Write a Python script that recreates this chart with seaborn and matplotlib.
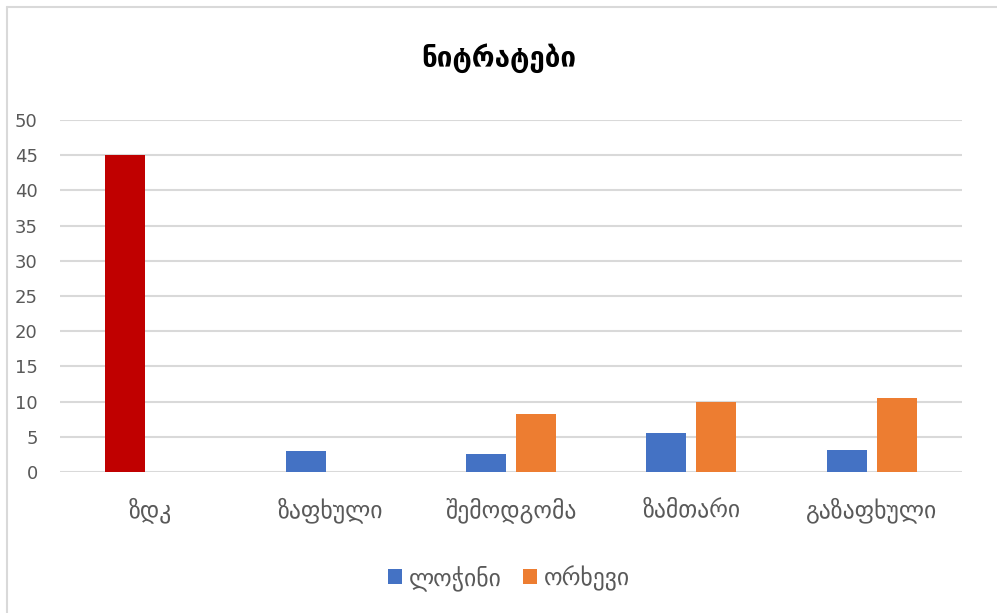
import matplotlib
matplotlib.use("Agg")
import matplotlib.pyplot as plt
from matplotlib.lines import Line2D
from matplotlib.patches import Patch
import seaborn as sns
import pandas as pd

# Nitrate readings by season for two sites, plus the permitted limit (ზდკ)
categories = ["ზდკ", "ზაფხული", "შემოდგომა", "ზამთარი", "გაზაფხული"]
series_names = ["ლოჭინი", "ორხევი"]
lochini = [45.0, 3.0, 2.5, 5.5, 3.1]
orkhevi = [0.0, 0.0, 8.3, 10.0, 10.5]
y_ticks = [0, 5, 10, 15, 20, 25, 30, 35, 40, 45, 50]

blue = "#4472C4"
orange = "#ED7D31"
limit_red = "#C00000"
text_gray = "#595959"
grid_gray = "#D9D9D9"

df = pd.DataFrame({
    "category": categories * 2,
    "site": [series_names[0]] * len(categories) + [series_names[1]] * len(categories),
    "value": lochini + orkhevi,
})

sns.set_style("white")
plt.rcParams["font.family"] = ["DejaVu Sans"]

fig = plt.figure(figsize=(9.97, 6.13), dpi=100)
ax = fig.add_axes([60 / 997, 141 / 613, 902 / 997, 352 / 613])

sns.barplot(
    data=df, x="category", y="value", hue="site",
    order=categories, hue_order=series_names,
    palette=[blue, orange], width=0.555, gap=0.2,
    saturation=1, errorbar=None, legend=False, ax=ax,
    linewidth=0, edgecolor="none",
)

# the limit bar is shown in red
ax.containers[0][0].set_facecolor(limit_red)

ax.set_ylim(0, 50)
ax.set_xlim(-0.5, len(categories) - 0.5)
ax.set_yticks(y_ticks)
ax.set_yticklabels([str(t) for t in y_ticks])
ax.yaxis.grid(True, color=grid_gray, linewidth=1.5)
ax.set_axisbelow(True)
for s in ax.spines.values():
    s.set_visible(False)
ax.tick_params(axis="y", length=0, pad=16, labelsize=13, labelcolor=text_gray)
ax.tick_params(axis="x", length=0, pad=18, labelsize=17, labelcolor=text_gray)
ax.set_xlabel("")
ax.set_ylabel("")

fig.text(0.5, 1 - 58 / 613, "ნიტრატები", ha="center", va="center",
         fontsize=20, fontweight="bold", color="black")

handles = [Patch(facecolor=blue, edgecolor="none"),
           Patch(facecolor=orange, edgecolor="none")]
leg = fig.legend(handles, series_names, loc="center", bbox_to_anchor=(509 / 997, 35 / 613),
                 ncol=2, frameon=False, fontsize=17, handlelength=0.6, handleheight=0.6,
                 handletextpad=0.3, columnspacing=0.9)
for t in leg.get_texts():
    t.set_color(text_gray)

# chart frame edges
fig.add_artist(Line2D([7 / 997, 1.0], [1 - 7 / 613, 1 - 7 / 613], color="#D9D9D9",
                      linewidth=1.5, transform=fig.transFigure))
fig.add_artist(Line2D([7 / 997, 7 / 997], [0.0, 1 - 7 / 613], color="#D9D9D9",
                      linewidth=1.5, transform=fig.transFigure))

fig.savefig("out.png", dpi=100)
